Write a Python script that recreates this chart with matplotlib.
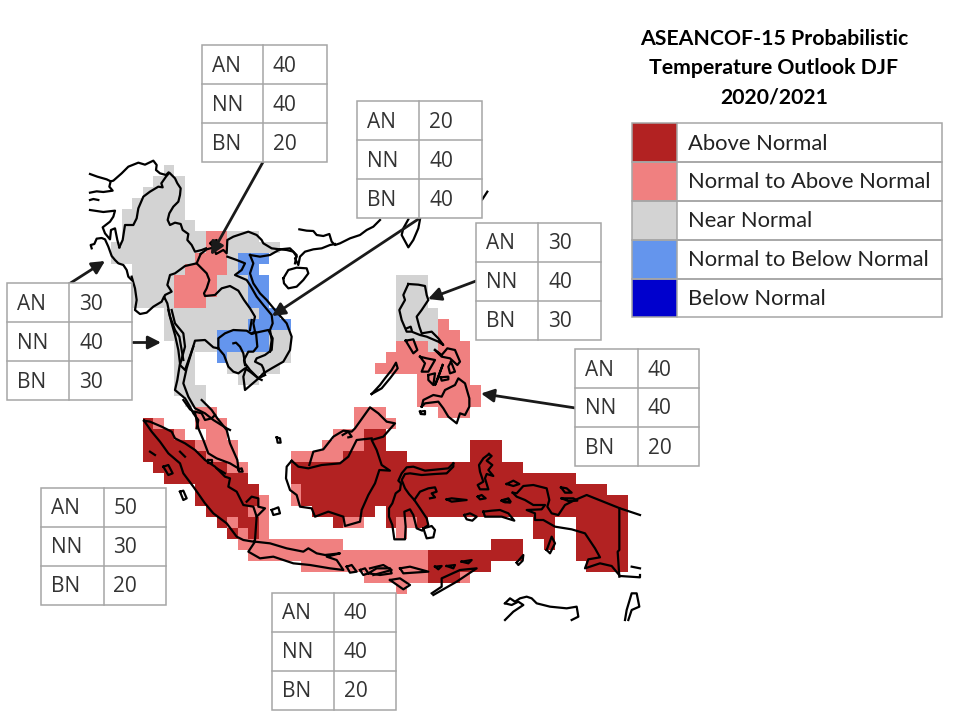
import numpy as np
import matplotlib
matplotlib.use("Agg")
import matplotlib.pyplot as plt
from matplotlib.colors import ListedColormap, BoundaryNorm
from matplotlib.patches import Rectangle

# ---------- data ----------
TITLE = ["ASEANCOF-15 Probabilistic", "Temperature Outlook DJF", "2020/2021"]
CATEGORIES = ["Above Normal", "Normal to Above Normal", "Near Normal",
              "Normal to Below Normal", "Below Normal"]
COLORS = ["#B22222", "#F08080", "#D3D3D3", "#6495ED", "#0000CD"]
A, P, N, L, B = 1, 2, 3, 4, 5   # category codes

# Each grid row (1 degree, north to south): (category, first column, last column)
GRID_RUNS = [
    [(N, 5, 5)],
    [(N, 4, 6)],
    [(N, 3, 6)],
    [(N, 2, 6)],
    [(N, 1, 6)],
    [(N, 1, 7)],
    [(N, 1, 8), (P, 9, 10), (N, 11, 13)],
    [(N, 0, 8), (P, 9, 10), (N, 11, 15)],
    [(N, 0, 7), (P, 8, 10), (N, 11, 11), (L, 12, 14)],
    [(N, 2, 6), (P, 7, 10), (N, 11, 11), (L, 12, 13)],
    [(N, 2, 5), (P, 6, 9), (N, 10, 12), (L, 13, 14), (N, 27, 29)],
    [(N, 2, 5), (P, 6, 9), (N, 10, 12), (L, 13, 14), (N, 27, 29)],
    [(N, 2, 5), (P, 6, 8), (N, 9, 12), (L, 13, 14), (N, 27, 29)],
    [(N, 5, 13), (L, 14, 15), (N, 27, 30)],
    [(N, 5, 12), (L, 13, 16), (N, 27, 30), (P, 31, 31)],
    [(N, 5, 9), (L, 10, 14), (N, 15, 16), (N, 27, 30), (P, 31, 32)],
    [(N, 6, 9), (L, 10, 14), (N, 15, 16), (P, 27, 29), (N, 30, 30), (P, 31, 33)],
    [(N, 6, 7), (L, 10, 10), (N, 11, 16), (P, 26, 33)],
    [(N, 6, 7), (N, 11, 15), (P, 25, 33)],
    [(N, 6, 7), (N, 12, 13), (P, 29, 33)],
    [(N, 6, 8), (P, 29, 34)],
    [(N, 7, 8), (P, 29, 34)],
    [(P, 8, 9), (P, 23, 25), (P, 31, 33)],
    [(A, 3, 3), (P, 4, 4), (P, 8, 10), (P, 23, 26)],
    [(A, 3, 5), (P, 6, 6), (P, 9, 10), (P, 21, 23), (A, 24, 25)],
    [(A, 3, 7), (P, 8, 11), (P, 20, 23), (A, 24, 25), (A, 34, 36)],
    [(A, 3, 8), (P, 9, 11), (P, 17, 21), (A, 22, 27), (A, 34, 36)],
    [(A, 4, 10), (P, 11, 12), (A, 17, 38)],
    [(A, 5, 12), (A, 17, 43)],
    [(A, 8, 13), (P, 17, 17), (A, 18, 46)],
    [(A, 8, 13), (P, 14, 14), (P, 17, 17), (A, 18, 48)],
    [(A, 9, 12), (P, 13, 14), (A, 19, 24), (A, 26, 48)],
    [(A, 10, 10), (P, 11, 11), (A, 12, 13), (P, 14, 14), (A, 21, 21), (P, 22, 23),
     (A, 26, 26), (P, 27, 28), (A, 29, 29), (A, 40, 41), (A, 44, 48)],
    [(A, 11, 11), (P, 12, 12), (A, 13, 13), (P, 14, 14), (P, 27, 27), (A, 40, 41), (A, 44, 48)],
    [(P, 12, 21), (A, 36, 38), (A, 41, 41), (A, 44, 48)],
    [(P, 13, 29), (A, 30, 38), (A, 44, 48)],
    [(P, 18, 29), (A, 30, 35), (A, 45, 48)],
    [(P, 24, 29), (A, 30, 32), (P, 33, 33)],
    [(P, 27, 27)],
]
LON_WEST, LON_EAST, LAT_NORTH, LAT_SOUTH = 92, 141, 28.5, -10.5

TABLE_LABELS = ["AN", "NN", "BN"]
TABLE_VALUES = [[40, 40, 20], [30, 40, 30], [20, 40, 40], [30, 40, 30],
                [40, 40, 20], [50, 30, 20], [40, 40, 20]]

Z1 = (90, 160); Z2 = (130, 400); Z3 = (370, 270); Z5 = (150, 310); Z6 = (60, 150); Z7 = (280, 170)
ZS = (385, 450); ZR = (370, 280); ZT = (280, 400); ZU = (500, 470)
COAST = [
 (Z6, [(90,72),(112,80),(140,88),(152,94),(160,92),(185,70),(205,50),(235,38),(255,44),(280,32),(290,45),(288,60),(300,70),(318,75),(325,68)]),
 (Z6, [(152,94),(148,110),(158,122),(130,126),(110,124),(90,128)]),
 (Z6, [(90,150),(100,147),(115,150)]),
 (Z6, [(90,180),(130,186),(165,182),(160,200),(150,215),(128,232),(135,250),(150,268),(153,240),(165,235),(172,270),(178,292)]),
 (Z6, [(95,295),(92,285),(103,282),(110,266),(125,264),(135,268),(145,290),(155,318),(165,330),(175,340),(190,345),(200,360),(205,380),(215,390)]),
 (Z6, [(178,292),(188,270),(195,225),(220,225),(230,205),(235,175),(250,140),(270,125),(295,110),(308,112),(304,100),(318,80),(328,68),(345,85),(352,100),(362,115),(360,135),(355,155),(340,170),(328,190),(323,210),(330,225),(345,218),(362,222),(368,240),(385,252),(382,270),(395,285),(405,305),(425,300),(438,295)]),
 (Z1, [(125,350),(135,385),(140,420),(135,450),(150,462),(170,458),(190,440),(215,425),(222,410),(232,430),(240,470),(255,510),(268,530),(275,570),(280,600)]),
 (Z1, [(320,310),(285,318),(255,340),(240,345),(232,375),(245,395),(225,405),(222,415)]),
 (Z1, [(332,282),(350,268),(372,262),(378,282),(400,270),(410,280),(412,240),(430,230),(475,215),(500,225),(515,240),(520,250),(545,265),(570,268)]),
 (Z1, [(332,282),(320,310),(330,320),(350,340),(358,360),(350,385),(342,400),(345,408),(375,405),(395,385),(420,378),(445,392),(462,420),(480,445),(495,470),(490,490),(495,515),(485,520)]),
 (Z1, [(372,262),(360,250),(365,245),(380,240),(378,258),(372,262)]),
 (Z1, [(412,290),(440,300),(465,310),(455,330),(435,345),(470,360),(480,375),(500,410),(520,435),(545,465),(548,490),(540,510),(545,540),(540,575)]),
 (Z1, [(480,285),(510,290),(540,285),(570,268),(600,265),(620,285),(615,310)]),
 (Z1, [(480,285),(490,310),(480,340),(490,370),(510,400),(530,420),(555,450),(590,490),(605,530),(600,570),(580,605),(545,625),(520,640),(500,660),(465,690),(460,650),(470,620)]),
 (Z5, [(205,115),(205,85),(225,70),(250,60),(290,62),(305,72),(318,68),(355,60),(368,85),(365,120),(345,135),(320,145),(315,155),(335,165),(340,175),(345,195)]),
 (Z5, [(318,68),(322,110),(310,125),(295,125),(282,150),(285,165)]),
 (Z5, [(305,30),(300,60)]),
 (Z5, [(250,100),(258,98),(270,110),(280,130),(285,160),(300,180),(325,205),(335,210)]),
 (Z5, [(205,115),(222,135),(235,170),(250,185),(265,190),(285,175),(300,185),(325,205),(345,195)]),
 (Z5, [(205,115),(190,112),(165,90),(135,92),(125,125),(110,175),(100,220),(115,260),(135,295),(165,310),(190,330),(230,355),(240,360)]),
 (Z5, [(55,0),(65,40),(75,75),(85,120),(90,160),(82,210),(75,240),(105,265),(120,290),(130,310),(145,330),(140,355)]),
 (Z5, [(65,0),(75,40),(100,70),(105,110),(90,165),(105,180),(130,110)]),
 (Z2, [(215,0),(245,30),(262,55),(290,90),(300,130),(322,180),(325,205)]),
 (Z2, [(160,0),(180,28),(195,38),(205,85),(220,120),(235,160),(260,175),(300,190),(325,205)]),
 (Z2, [(195,35),(215,40),(225,60),(245,55),(255,45)]),
 (Z2, [(42,62),(60,65),(95,80),(125,95),(135,115),(165,130),(195,150),(225,180),(255,200),(285,230),(300,235),(295,260),(320,275),(340,315),(370,320),(380,350),(375,420),(370,425),(340,420),(320,410),(290,370),(250,340),(225,310),(190,260),(160,220),(150,190),(115,160),(90,125),(65,95),(42,62)]),
 (Z2, [(350,305),(365,290),(385,295),(385,320),(405,325),(390,340),(380,350)]),
 (Z2, [(60,155),(75,165)]), (Z2, [(150,155),(165,170)]), (Z2, [(260,205),(285,220)]),
 (Z2, [(100,200),(115,195),(128,220),(115,225),(100,200)]),
 (Z2, [(150,275),(160,272),(170,295),(160,300),(150,275)]),
 (Z2, [(325,208),(335,205),(338,215),(327,215),(325,208)]),
 (Z2, [(425,330),(445,322),(450,340),(430,345),(425,330)]),
 (Z2, [(440,112),(450,115),(452,128),(443,128),(440,112)]),
 (Z2, [(235,180),(245,180),(245,190),(235,190),(235,180)]),
 (Z2, [(375,425),(420,430),(470,445),(520,455),(535,445),(560,460),(585,465),(630,460),(590,470),(620,480),(640,510),(600,505),(540,495),(490,490),(430,470),(390,475),(355,455),(375,425)]),
 (Z2, [(650,500),(665,495),(680,515),(660,518),(650,500)]),
 (Z2, [(690,510),(705,505),(715,520),(700,525),(690,510)]),
 (Z2, [(715,520),(740,505),(780,505),(785,520),(750,525),(715,520)]),
 # Borneo
 (ZT, [(35,182),(20,200),(18,235),(30,270),(50,285),(60,320),(95,325),(105,350),(145,335),(190,350),(195,378),(240,365),(245,330),(265,285),(285,250),(298,210),(330,212),(305,195),(290,150),(275,120),(310,110),(345,70),(320,65),(295,40),(270,22),(250,50),(225,85),(215,95),(190,92),(160,110),(130,148),(100,155),(88,195)]),
 (ZT, [(35,182),(55,200),(85,205),(125,195),(180,190),(205,170),(230,120),(275,115)]),
 (ZT, [(188,105),(205,95),(215,110),(205,112)]),
 # Sulawesi and Maluku
 (ZS, [(205,40),(190,55),(160,58),(120,62),(85,50),(65,52),(50,70),(40,92),(48,100),(45,120),(32,130),(22,160),(12,175),(12,200),(22,225),(28,268),(60,268),(62,230),(58,185),(75,178),(85,195),(95,235),(112,242),(120,232),(130,225),(125,205),(105,175),(88,150),(105,125),(130,115),(150,112),(155,125),(140,130),(150,142),(135,145)]),
 (ZS, [(205,40),(205,50),(185,70),(150,72),(110,75),(75,70),(60,72),(50,90),(60,115),(72,132),(88,150)]),
 (ZS, [(115,235),(140,228),(150,240),(145,262),(125,265),(120,250),(115,235)]),
 (ZS, [(185,148),(200,145),(245,150),(200,155),(185,148)]),
 (ZS, [(278,140),(290,135),(302,145),(285,148),(278,140)]),
 (ZS, [(238,195),(255,190),(275,200),(262,212),(245,208),(238,195)]),
 (ZS, [(295,185),(320,182),(345,180),(370,190),(388,212),(350,200),(300,200),(295,185)]),
 (ZS, [(355,150),(370,147),(375,158),(355,155),(355,150)]),
 (ZS, [(312,12),(320,18),(305,32),(322,45),(310,60),(325,78),(305,72),(300,85),(310,118),(285,118),(278,105),(295,95),(285,65),(282,45),(295,25),(312,12)]),
 # New Guinea and nearby
 (ZU, [(38,68),(50,70),(70,48),(100,45),(140,55),(148,90),(142,110),(155,130),(175,135),(195,105),(225,90),(260,75),(310,95),(360,115),(420,135)]),
 (ZU, [(38,68),(50,80),(75,90),(100,105),(135,105),(125,118),(80,120),(105,130),(105,150),(130,150),(165,170),(215,178),(255,190),(285,235),(300,262),(265,268),(255,295),(300,280),(335,288),(360,318),(420,322),(420,315)]),
 (ZU, [(358,115),(358,240),(353,245),(358,320)]),
 (ZU, [(20,42),(40,32),(58,42),(40,48),(20,42)]),
 (ZU, [(5,92),(25,85),(32,95),(15,97),(5,92)]),
 (ZU, [(183,52),(200,55),(215,68),(195,68),(183,52)]),
 (ZU, [(185,85),(220,85),(232,92),(205,93),(185,85)]),
 (ZU, [(140,240),(155,200),(165,220),(150,250),(140,240)]),
 (ZU, [(50,278),(70,255),(68,272),(55,285),(50,278)]),
 (ZU, [(395,290),(420,295)]),
 (ZU, [(15,400),(30,385),(45,395),(60,385),(80,380),(95,385),(110,400),(150,410),(200,415),(230,410),(235,440),(215,450)]),
 (ZU, [(15,400),(35,405),(55,395),(70,405),(40,425),(25,440),(15,450)]),
 (ZU, [(375,450),(380,420),(395,370),(410,370),(418,410),(395,420),(385,450)]),
 # Lesser Sunda
 (Z3, [(185,970),(215,950),(215,925),(270,900),(320,895),(260,935),(190,975)]),
 (Z3, [(60,930),(90,925),(120,945),(100,958),(60,930)]),
 (Z3, [(0,895),(40,885),(65,900),(10,915)]),
 (Z3, [(90,895),(120,890),(175,905),(100,910),(90,895)]),
 (Z3, [(195,890),(215,888),(205,898),(195,890)]),
 (Z3, [(230,888),(255,885),(250,895),(230,888)]),
 (Z3, [(275,875),(305,870),(295,880),(275,875)]),
 # Philippines
 (ZR, [(115,12),(145,14),(165,18),(170,45),(175,60),(155,90),(140,110),(148,140),(155,160),(185,155),(205,175),(220,195),(205,185),(170,170),(150,165),(125,155),(110,155),(95,120),(88,90),(105,60),(100,45),(115,12)]),
 (ZR, [(110,145),(122,140),(125,150)]),
 (ZR, [(107,182),(130,178),(142,210),(130,220),(107,182)]),
 (ZR, [(5,342),(30,315),(45,295),(65,270),(78,248),(83,265),(60,295),(35,325),(5,342)]),
 (ZR, [(195,210),(215,225),(232,205),(255,210),(270,245),(262,255),(240,235),(215,230),(195,210)]),
 (ZR, [(150,230),(170,235),(195,240),(175,275),(155,275),(165,250),(150,230)]),
 (ZR, [(175,285),(195,280),(190,315),(175,300),(175,285)]),
 (ZR, [(218,255),(200,305),(195,315),(218,255)]),
 (ZR, [(212,292),(235,290),(235,298),(215,302),(212,292)]),
 (ZR, [(243,245),(255,275),(240,280),(235,260),(243,245)]),
 (ZR, [(155,380),(160,360),(190,345),(215,350),(225,330),(255,315),(265,295),(285,310),(298,355),(298,380),(285,405),(270,400),(260,430),(235,410),(220,385),(205,365),(165,370),(155,380)]),
 (ZR, [(150,395),(165,393),(165,403),(152,402),(150,395)]),
 # China, Hainan, Taiwan
 (Z7, [(58,178),(80,182),(100,183),(110,195),(130,198),(148,192),(155,215),(165,225),(180,220),(210,205),(240,195),(260,180),(280,170),(300,150)]),
 (Z7, [(0,238),(20,240),(40,245),(50,260),(45,265),(55,285),(60,260),(75,245),(100,238),(125,235),(150,225),(165,222)]),
 (Z7, [(10,325),(25,300),(50,293),(80,295),(85,310),(70,330),(50,350),(25,355),(12,340),(10,325)]),
 (Z7, [(385,148),(370,175),(365,195),(385,232),(400,210),(415,175),(420,148)]),
 (Z7, [(607,88),(622,65)]),
]

# ---------- layout (pixels) ----------
W, H = 960, 720
fig = plt.figure(figsize=(W / 100, H / 100), dpi=100, facecolor="white")

MAP_L, MAP_R, MAP_T, MAP_B = 111.0, 628.5, 165.0, 594.0
ax_map = fig.add_axes([MAP_L / W, 1 - MAP_B / H, (MAP_R - MAP_L) / W, (MAP_B - MAP_T) / H])
ax_map.set_xlim(LON_WEST, LON_EAST)
ax_map.set_ylim(LAT_SOUTH, LAT_NORTH)
ax_map.axis("off")

grid = np.zeros((len(GRID_RUNS), LON_EAST - LON_WEST))
for r, runs in enumerate(GRID_RUNS):
    for code, c0, c1 in runs:
        grid[r, c0:c1 + 1] = code
lon_edges = np.arange(LON_WEST, LON_EAST + 1)
lat_edges = LAT_NORTH - np.arange(len(GRID_RUNS) + 1)
ax_map.pcolormesh(lon_edges, lat_edges, np.ma.masked_equal(grid, 0),
                  cmap=ListedColormap(COLORS),
                  norm=BoundaryNorm(np.arange(0.5, 6.5), 5), linewidth=0)

ax = fig.add_axes([0, 0, 1, 1], facecolor="none")
ax.set_xlim(0, W)
ax.set_ylim(H, 0)
ax.axis("off")

for (x0, y0), pts in COAST:
    arr = np.array(pts, float)
    ax.plot(np.minimum(x0 + arr[:, 0] / 3, 640), y0 + arr[:, 1] / 3, color="black", lw=1.6,
            solid_joinstyle="round", zorder=3)

# arrows: tail -> tip
ARROWS = [((263, 162), (211, 255)), ((420, 218), (272, 316)), ((476, 281), (428, 299)),
          ((575.5, 408), (481, 393.5)), ((69, 284), (105, 261)), ((133, 342.5), (161, 342.5))]
for tail, tip in ARROWS:
    ax.annotate("", xy=tip, xytext=tail, zorder=4,
                arrowprops=dict(arrowstyle="-|>,head_length=0.55,head_width=0.28", color="#1a1a1a",
                                lw=2.0, shrinkA=0, shrinkB=0, mutation_scale=14))

# probability tables
GRAY = "#A6A6A6"
TABLE_BOXES = [(201.7, 262.7, 326.5, 45.3), (6.7, 69.3, 131.7, 283.3), (356.7, 419, 481.7, 101.3),
               (476, 538.3, 601, 222.5), (575.3, 637.7, 699, 349), (41, 103.5, 166, 487.7),
               (271.7, 333.7, 396, 592.7)]
ROW_H = 39.0
for (xl, xm, xr, yt), vals in zip(TABLE_BOXES, TABLE_VALUES):
    ax.add_patch(Rectangle((xl, yt), xr - xl, 3 * ROW_H, fc="white", ec=GRAY, lw=1.1, zorder=5))
    ax.plot([xm, xm], [yt, yt + 3 * ROW_H], color=GRAY, lw=1.1, zorder=6)
    for i, (lab, v) in enumerate(zip(TABLE_LABELS, vals)):
        yc = yt + ROW_H * (i + 0.5)
        if i:
            ax.plot([xl, xr], [yt + ROW_H * i] * 2, color=GRAY, lw=1.1, zorder=6)
        ax.text(xl + 10, yc + 1.5, lab, family="Open Sans", fontsize=15, color="#333333",
                va="center", ha="left", zorder=7)
        ax.text(xm + 10, yc + 1.5, str(v), family="Open Sans", fontsize=15, color="#333333",
                va="center", ha="left", zorder=7)

# title
for txt, yc in zip(TITLE, (39, 68, 97)):
    ax.text(774, yc, txt, family="Lato", fontweight="bold", fontsize=15.3, color="black",
            ha="center", va="center")

# legend
LEG_L, LEG_M, LEG_R, LEG_T, LEG_H = 631.7, 677.3, 941.7, 123.3, 38.8
for i, (name, col) in enumerate(zip(CATEGORIES, COLORS)):
    y = LEG_T + i * LEG_H
    ax.add_patch(Rectangle((LEG_L, y), LEG_M - LEG_L, LEG_H, fc=col, ec="none", zorder=2))
    ax.add_patch(Rectangle((LEG_L, y), LEG_R - LEG_L, LEG_H, fc="none", ec=GRAY, lw=1.1, zorder=3))
    ax.plot([LEG_M, LEG_M], [y, y + LEG_H], color=GRAY, lw=1.1, zorder=3)
    ax.text(687.5, y + LEG_H / 2 + 1, name, family="Lato", fontsize=15.8, color="#222222",
            ha="left", va="center", zorder=4)

fig.savefig("out.png", dpi=100)
